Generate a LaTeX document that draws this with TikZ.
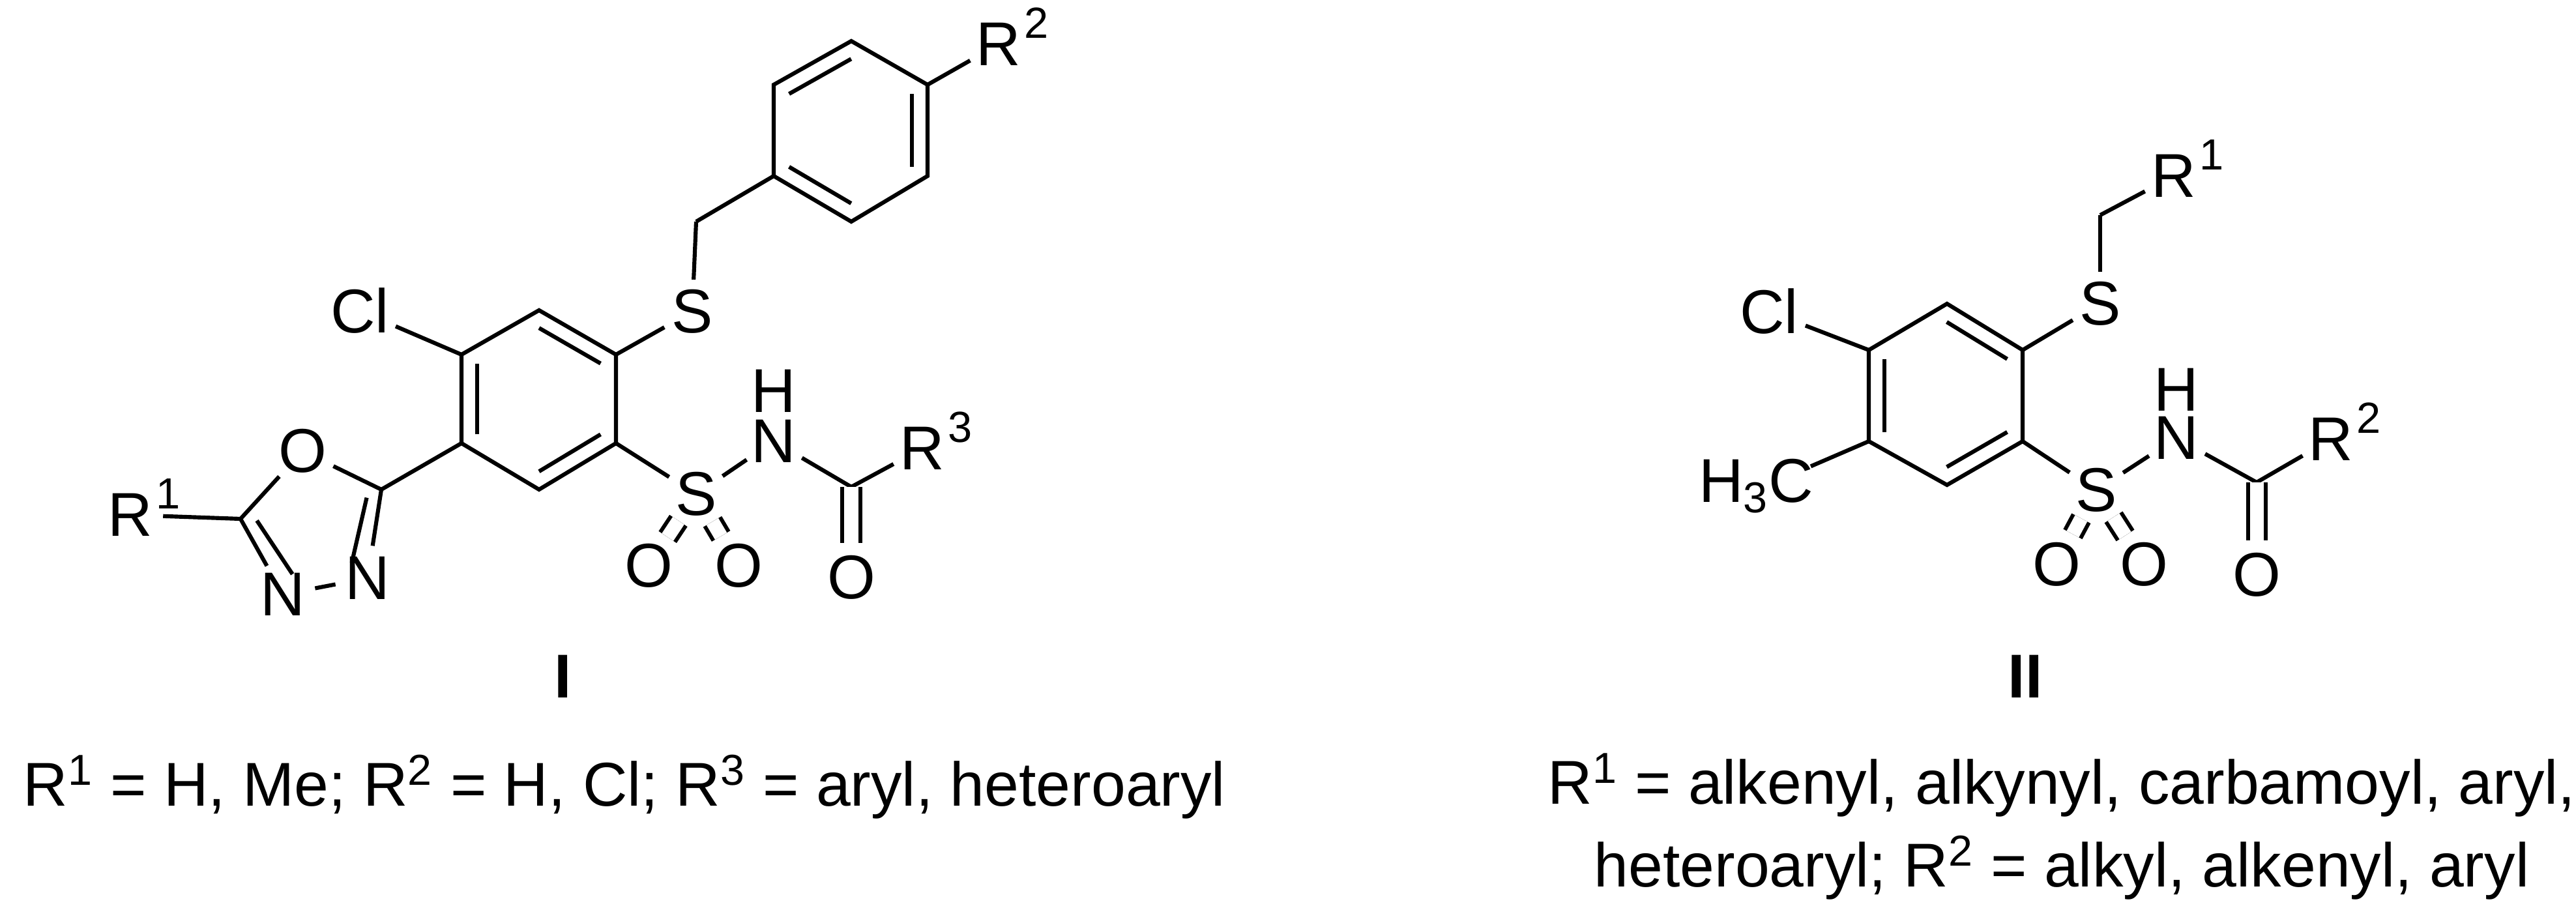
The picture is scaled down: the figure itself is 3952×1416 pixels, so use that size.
\documentclass[tikz,border=0pt]{standalone}
\usepackage{fontspec}
\setmainfont{Liberation Sans}
\usetikzlibrary{calc}
\begin{document}
\begin{tikzpicture}[x=0.01cm,y=-0.01cm,line width=1.75pt,
  atom/.style={circle,inner sep=0pt,font=\fontsize{27}{30}\selectfont},
  lbl/.style={inner sep=0pt,font=\fontsize{27}{30}\selectfont},
  sup/.style={inner sep=0pt,anchor=south west,font=\fontsize{19}{22}\selectfont},
  captext/.style={inner sep=0pt,font=\fontsize{27}{30}\selectfont\bfseries},
  dbl/.style={double,double distance=6pt,line width=1.7pt}]
\useasboundingbox (0,0) rectangle (3952,1416);
% ===== Structure I =====
\coordinate (a1) at (827,476);
\coordinate (a2) at (945,544);
\coordinate (a3) at (945,680);
\coordinate (a4) at (827,751);
\coordinate (a5) at (708,680);
\coordinate (a6) at (708,544);
\coordinate (ac) at (827,612);
\draw (a1)--(a2)--(a3)--(a4)--(a5)--(a6)--cycle;
\draw ($(a1)!0.2!(ac)$)--($(a2)!0.2!(ac)$);
\draw ($(a3)!0.2!(ac)$)--($(a4)!0.2!(ac)$);
\draw ($(a5)!0.2!(ac)$)--($(a6)!0.2!(ac)$);
\node[atom] (cl1) at (552,477) {Cl};
\draw (a6)--(cl1);
\node[atom] (s1) at (1062,478) {S};
\draw (a2)--(s1);
\coordinate (ch1) at (1068,340);
\draw (s1)--(ch1);
\coordinate (b1) at (1187,270);
\coordinate (b2) at (1306,340);
\coordinate (b3) at (1423,270);
\coordinate (b4) at (1423,130);
\coordinate (b5) at (1306,63);
\coordinate (b6) at (1187,130);
\coordinate (bc) at (1305,200);
\draw (ch1)--(b1);
\draw (b1)--(b2)--(b3)--(b4)--(b5)--(b6)--cycle;
\draw ($(b6)!0.2!(bc)$)--($(b5)!0.2!(bc)$);
\draw ($(b3)!0.2!(bc)$)--($(b4)!0.2!(bc)$);
\draw ($(b1)!0.2!(bc)$)--($(b2)!0.2!(bc)$);
\node[atom] (r2a) at (1532,68) {R};
\node[sup] at (1568,62) {2};
\draw (b4)--(r2a);
% oxadiazole
\coordinate (c2) at (585,751);
\node[atom] (o1) at (464,692) {O};
\coordinate (c5) at (369,796);
\node[atom] (n4) at (434,912) {N};
\node[atom] (n3) at (564,887) {N};
\coordinate (oc) at (483,808);
\draw (a5)--(c2);
\draw (c2)--(o1)--(c5);
\draw (c5)--(n4)--(n3)--(c2);
\draw ($(c5)!0.22!(oc)$)--($(n4)!0.3!(oc)$);
\draw ($(c2)!0.22!(oc)$)--($(n3)!0.3!(oc)$);
\node[atom] (r1a) at (200,790) {R};
\node[sup] at (236,784) {1};
\draw (c5)--(r1a);
% sulfonamide
\node[atom] (s2) at (1068,758) {S};
\draw (a3)--(s2);
\node[atom] (o2) at (995,868) {O};
\node[atom] (o3) at (1133,868) {O};
\draw[dbl] (s2)--(o2);
\draw[dbl] (s2)--(o3);
\node[atom] (n1) at (1187,677) {N};
\node[atom] (h1) at (1187,600) {H};
\draw (s2)--(n1);
\coordinate (co1) at (1306,747);
\draw (n1)--(co1);
\node[atom] (r3a) at (1415,688) {R};
\node[sup] at (1451,682) {3};
\draw (co1)--(r3a);
\node[atom] (o4) at (1306,886) {O};
\draw[dbl] (co1)--(o4);
\node[captext] (lab1) at (864,1038) {I};
\node[lbl] (t1) at (958,1207) {R\textsuperscript{1} = H, Me; R\textsuperscript{2} = H, Cl; R\textsuperscript{3} = aryl, heteroaryl};
% ===== Structure II =====
\coordinate (d1) at (2987,466);
\coordinate (d2) at (3103,537);
\coordinate (d3) at (3103,677);
\coordinate (d4) at (2987,744);
\coordinate (d5) at (2867,677);
\coordinate (d6) at (2867,537);
\coordinate (dc) at (2985,606);
\draw (d1)--(d2)--(d3)--(d4)--(d5)--(d6)--cycle;
\draw ($(d1)!0.2!(dc)$)--($(d2)!0.2!(dc)$);
\draw ($(d3)!0.2!(dc)$)--($(d4)!0.2!(dc)$);
\draw ($(d5)!0.2!(dc)$)--($(d6)!0.2!(dc)$);
\node[atom] (cl2) at (2714,478) {Cl};
\draw (d6)--(cl2);
\node[lbl,anchor=east] (me) at (2785,746) {H\textsubscript{3}C};
\draw (d5)--([xshift=-2pt,yshift=-4pt]me.north east);
\node[atom] (s3) at (3222,466) {S};
\draw (d2)--(s3);
\coordinate (ch2) at (3222,330);
\draw (s3)--(ch2);
\node[atom] (r1b) at (3335,270) {R};
\node[sup] at (3371,264) {1};
\draw (ch2)--(r1b);
\node[atom] (s4) at (3216,752) {S};
\draw (d3)--(s4);
\node[atom] (o5) at (3155,866) {O};
\node[atom] (o6) at (3289,866) {O};
\draw[dbl] (s4)--(o5);
\draw[dbl] (s4)--(o6);
\node[atom] (n2) at (3339,672) {N};
\node[atom] (h2) at (3339,598) {H};
\draw (s4)--(n2);
\coordinate (co2) at (3462,740);
\draw (n2)--(co2);
\node[atom] (r2b) at (3576,674) {R};
\node[sup] at (3612,668) {2};
\draw (co2)--(r2b);
\node[atom] (o7) at (3462,882) {O};
\draw[dbl] (co2)--(o7);
\node[captext] (lab2) at (3107,1038) {II};
\node[lbl,align=center,font=\fontsize{27}{36}\selectfont] (t2) at (3163,1268) {R\textsuperscript{1} = alkenyl, alkynyl, carbamoyl, aryl,\\heteroaryl; R\textsuperscript{2} = alkyl, alkenyl, aryl};
\end{tikzpicture}
\end{document}
